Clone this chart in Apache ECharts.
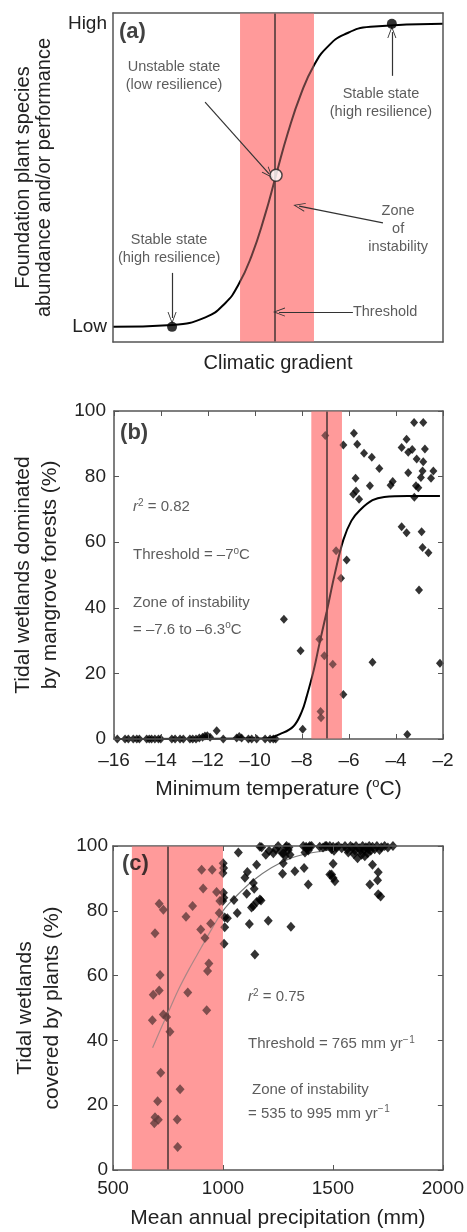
<!DOCTYPE html>
<html><head><meta charset="utf-8">
<script src="https://cdn.jsdelivr.net/npm/echarts@6/dist/echarts.min.js"></script>
<style>html,body{margin:0;padding:0;background:#fff}#c{width:467px;height:1232px}</style>
</head><body><div id="c"></div>
<script>
// ---------------- DATA ----------------
// Panel (a): conceptual curve (x: climatic gradient 0..1, y: performance 0..1)
const aCurve = [[0,0.046],[0.18,0.052],[0.28,0.075],[0.34,0.118],[0.38,0.174],[0.42,0.262],[0.46,0.384],[0.494,0.507],[0.53,0.636],[0.57,0.755],[0.61,0.843],[0.65,0.897],[0.70,0.934],[0.78,0.958],[1.0,0.967]];
const aStable = [[0.179,0.046],[0.845,0.967]];
const aUnstable = [[0.494,0.507]];
const aBand = [0.385, 0.609];
const aThreshold = 0.494;
const aLevels = [0.046, 0.967];
const aLevelLabels = ['Low', 'High'];

// Panel (b): minimum temperature (°C) vs % mangrove
const bPoints = [
  [-15.86,0],[-15.53,0],[-15.39,0],[-15.18,0],[-15.03,0],[-14.92,0],[-14.61,0],[-14.50,0],[-14.40,0],[-14.26,0],[-14.11,0],[-14.01,0],
  [-13.54,0],[-13.40,0],[-13.19,0],[-13.05,0],[-12.77,0],[-12.65,0],[-12.51,0],[-12.37,0.3],[-12.23,0.5],[-12.13,0.9],[-12.03,1.0],[-11.91,0.5],
  [-11.35,0],[-10.78,0.3],[-10.67,0.8],[-10.57,0.3],[-10.28,0],[-10.14,0],[-9.93,0],[-9.57,0],[-9.36,0],[-9.22,0],[-9.12,0],
  [-11.63,2.5],[-7.97,3.0],[-3.52,1.4],[-7.21,8.4],[-7.19,6.5],[-6.24,13.6],
  [-8.06,26.9],[-7.05,25.4],[-6.69,22.8],[-5.0,23.4],[-2.13,23.1],[-7.26,30.4],[-8.77,36.5],
  [-6.34,49.0],[-6.55,57.4],[-6.10,54.6],[-3.02,45.4],
  [-7.01,92.5],[-6.24,89.6],[-5.79,93.2],[-5.65,89.9],[-5.36,87.1],[-5.03,85.9],[-4.71,82.5],[-5.11,77.2],[-5.72,79.5],
  [-5.82,74.6],[-5.70,75.6],[-5.57,73.1],[-4.23,77.4],[-4.14,78.5],[-3.76,88.9],[-3.55,91.4],[-3.48,87.4],[-3.31,88.3],
  [-3.23,96.5],[-2.84,96.5],[-3.12,85.4],[-2.84,84.5],[-2.77,88.4],[-3.48,81.2],[-2.87,81.7],[-2.94,79.7],[-2.41,81.7],
  [-2.51,79.5],[-3.15,77.2],[-3.05,76.6],[-3.22,73.7],[-3.76,64.7],[-3.55,62.9],[-2.91,63.2],[-2.87,58.4],[-2.62,56.8]
];
const bCurve = [[-16,0],[-9.5,0.2],[-8.94,1.5],[-8.37,3.8],[-8.0,8.5],[-7.8,13],[-7.5,21],[-7.26,29],[-6.95,38.8],[-6.6,50.5],[-6.24,60.7],[-5.9,66.5],[-5.53,69.8],[-5.0,72.8],[-4.5,73.8],[-3.5,74.1],[-2.13,74.1]];
const bBand = [-7.6, -6.3];
const bThreshold = -6.95;

// Panel (c): mean annual precipitation (mm) vs % plant cover
const cPoints = [
  [903,92.7],[951,92.7],[910,86.9],[971,85.8],[986,83.0],[710,82.2],[729,80.3],[862,81.5],[832,78.2],[983,79.3],[944,76.1],
  [899,74.2],[918,71.6],[691,73.1],[714,60.2],[683,54.1],[710,55.4],[936,63.7],[930,61.4],[840,54.8],[926,49.3],[729,48.0],
  [744,47.2],[679,46.2],[759,42.7],[717,30.0],[805,24.9],[703,21.2],[691,16.3],[706,15.5],[688,14.4],[792,15.6],[794,7.1],
  [1001,94.7],[1003,93.2],[1000,91.7],[1002,85.6],[1004,84.0],[999,83.0],[1008,77.9],[1008,74.9],[1005,69.8],
  [1070,98.0],[1176,99.6],[1195,97.3],[1229,97.8],[1251,100],[1274,97.8],[1289,100],[1297,98.8],[1305,97.3],[1282,96.8],
  [1365,100],[1380,99.3],[1388,98.6],[1395,100],[1403,100],[1373,98],[1471,100],[1486,100],[1501,99.8],
  [1274,94.7],[1271,91.4],[1327,92.2],[1369,93.2],[1388,88.1],[1486,91.2],[1501,90.1],[1153,94.2],[1111,92.0],[1100,90.2],
  [1138,88.6],[1142,86.8],[1108,85.3],[1168,83.5],[1153,82.7],[1138,81.5],[1130,81.0],[1050,83.3],[1065,79.3],[1020,77.7],
  [1120,75.9],[1206,76.9],[1309,75.1],[1145,66.5],[1173,83.2],
  [1168,99.8],[1210,98.5],[1240,99],[1262,98.3],[1285,99.5],[1300,99.6],[1378,99.8],[1390,99.5],[1440,99.8],[1455,99.5],[1465,100],
  [1494,99],[1505,98.5],[1515,99.6],[1525,100],[1540,99.3],[1555,100],[1565,99],[1570,98],[1580,100],[1590,99.5],[1600,98.6],
  [1605,100],[1612,96.2],[1620,99.3],[1630,97.3],[1635,100],[1642,98.8],[1650,99.6],[1658,97.8],[1665,100],[1672,98.5],
  [1680,99.8],[1690,99],[1700,100],[1712,98.8],[1720,99.6],[1735,100],[1750,99.5],[1773,100],[1595,97.5],[1625,98.5],
  [1645,96.8],[1660,99],
  [1501,94.5],[1494,91.2],[1509,89.1],[1680,94.2],[1706,91.9],[1703,89.4],[1668,88.1],[1706,85.1],[1717,84.4]
];
const cCurve = [[680,37.7],[720,44],[760,50],[800,56],[850,62.5],[900,68.5],[950,74.5],[1000,80],[1060,84.5],[1140,89.5],[1220,93.3],[1300,96],[1380,97.6],[1460,98.5],[1510,99]];
const cBand = [586, 1000];
const cThreshold = 750;

// ---------------- LAYOUT / ANNOTATIONS ----------------
const FONT = "'Liberation Sans', Arial, sans-serif";
const grids = [
  {left:113, top:13, width:330, height:329},
  {left:114, top:411, width:329, height:328},
  {left:113, top:846, width:330, height:328}
];
const aNotes = [
  {p:[0.018,0.942], t:'{b|(a)}', align:'left'},
  {p:[0.185,0.808], t:'Unstable state\n(low resilience)', align:'center'},
  {p:[0.812,0.726], t:'Stable state\n(high resilience)', align:'center'},
  {p:[0.864,0.343], t:'Zone\nof\ninstability', align:'center'},
  {p:[0.170,0.284], t:'Stable state\n(high resilience)', align:'center'},
  {p:[0.727,0.091], t:'Threshold', align:'left'}
];
const aArrows = [
  [[0.279,0.729],[0.473,0.511]],
  [[0.845,0.809],[0.845,0.942]],
  [[0.818,0.362],[0.564,0.413]],
  [[0.179,0.210],[0.179,0.073]],
  [[0.727,0.091],[0.503,0.091]]
];
const bNotes = [
  {p:[-15.74,93.3], t:'{b|(b)}', align:'left'},
  {p:[-15.19,70.8], t:'{i|r}{s|2} = 0.82', align:'left'},
  {p:[-15.19,56.1], t:'Threshold = \u20137{s|o}C', align:'left'},
  {p:[-15.19,41.4], t:'Zone of instability', align:'left'},
  {p:[-15.19,33.4], t:'= \u20137.6 to \u20136.3{s|o}C', align:'left'}
];
const cNotes = [
  {p:[541,94.5], t:'{b|(c)}', align:'left'},
  {p:[1114,53.4], t:'{i|r}{s|2} = 0.75', align:'left'},
  {p:[1114,38.8], t:'Threshold = 765 mm yr{s|\u2212\u200a1}', align:'left'},
  {p:[1132,24.7], t:'Zone of instability', align:'left'},
  {p:[1114,17.4], t:'= 535 to 995 mm yr{s|\u2212\u200a1}', align:'left'}
];

const rich = {
  b: {fontSize:22, fontWeight:'bold', color:'#111', fontFamily:FONT, lineHeight:24},
  i: {fontStyle:'italic', fontSize:15, color:'#333', fontFamily:FONT, lineHeight:18},
  s: {fontSize:10, color:'#333', fontFamily:FONT, verticalAlign:'top', lineHeight:18, padding:[0,0,6,0]}
};

function noteSeries(xi, yi, notes, fs) {
  return {
    type:'scatter', xAxisIndex:xi, yAxisIndex:yi, symbolSize:1, silent:true, z:12,
    itemStyle:{color:'rgba(0,0,0,0)'},
    data: notes.map(n => ({value:n.p, label:{align:n.align}, nm:n.t})),
    label:{show:true, position:'inside', verticalAlign:'middle', color:'#333', fontSize:fs, lineHeight:18, fontFamily:FONT,
      formatter: p => p.data.nm, rich: rich}
  };
}

const chevron = 'path://M5,0 L10,12 L9,12 L5,2.4 L1,12 L0,12 Z';

function axisPair(gi, kind, opts) {
  const base = {gridIndex:gi, type:'value', z:6, splitLine:{show:false},
    axisLine:{show:true, onZero:false, lineStyle:{color:'#555', width:1.5}}};
  const main = Object.assign({}, base, opts.main);
  const mirror = Object.assign({}, base, {position: kind==='x'?'top':'right', axisLabel:{show:false}, name:''}, opts.mirror);
  return [main, mirror];
}

const tickStyle = {show:true, inside:true, length:5, lineStyle:{color:'#555', width:1}};
const labelStyle = {color:'#222', fontSize:19, fontFamily:FONT};
const nameStyle = {color:'#222', fontSize:21, fontFamily:FONT, lineHeight:27};

const xA = axisPair(0,'x',{main:{min:0,max:1, axisTick:{show:false}, axisLabel:{show:false}, position:'bottom',
  name:'Climatic gradient', nameLocation:'middle', nameGap:8, nameTextStyle:Object.assign({}, nameStyle, {fontSize:20, verticalAlign:'top'})},
  mirror:{min:0,max:1, axisTick:{show:false}}});
const yA = axisPair(0,'y',{main:{min:0,max:1, position:'left',
  axisTick:{show:false},
  axisLabel:{show:true, customValues:aLevels, margin:6, color:'#222', fontSize:19, fontFamily:FONT,
    formatter: v => { const k = aLevels.findIndex(l => Math.abs(l - v) < 1e-6); return k >= 0 ? aLevelLabels[k] : ''; }},
  name:'Foundation plant species\nabundance and/or performance', nameLocation:'middle', nameGap:58,
  nameTextStyle:Object.assign({}, nameStyle, {fontSize:20, lineHeight:21})},
  mirror:{min:0,max:1, axisTick:{show:false}}});

const xB = axisPair(1,'x',{main:{min:-16,max:-2,interval:2, position:'bottom', axisTick:tickStyle,
  axisLabel:Object.assign({}, labelStyle, {margin:12, formatter: v => String(v).replace('-', '\u2013')}),
  name:'Minimum temperature ({s|o}C)', nameLocation:'middle', nameGap:38,
  nameTextStyle:Object.assign({}, nameStyle, {lineHeight:25, rich:{s:{fontSize:13, color:'#222', fontFamily:FONT, verticalAlign:'top', lineHeight:25, padding:[0,0,8,0]}}})},
  mirror:{min:-16,max:-2,interval:2, axisTick:tickStyle}});
const yB = axisPair(1,'y',{main:{min:0,max:100,interval:20, position:'left', axisTick:tickStyle,
  axisLabel:Object.assign({}, labelStyle, {margin:8}),
  name:'Tidal wetlands dominated\nby mangrove forests (%)', nameLocation:'middle', nameGap:44, nameTextStyle:nameStyle},
  mirror:{min:0,max:100,interval:20, axisTick:tickStyle}});

const xC = axisPair(2,'x',{main:{min:500,max:2000,interval:500, position:'bottom', axisTick:tickStyle,
  axisLabel:Object.assign({}, labelStyle, {margin:9, formatter: v => String(v)}),
  name:'Mean annual precipitation (mm)', nameLocation:'middle', nameGap:36, nameTextStyle:Object.assign({}, nameStyle, {lineHeight:25})},
  mirror:{min:500,max:2000,interval:500, axisTick:tickStyle}});
const yC = axisPair(2,'y',{main:{min:0,max:100,interval:20, position:'left', axisTick:tickStyle,
  axisLabel:Object.assign({}, labelStyle, {margin:5}),
  name:'Tidal wetlands\ncovered by plants (%)', nameLocation:'middle', nameGap:44, nameTextStyle:nameStyle},
  mirror:{min:0,max:100,interval:20, axisTick:tickStyle}});

const BAND = '#ff9a9a';
const OVER = 'rgba(255,154,154,0.38)';

function bandSeries(xi, yi, band, color, z) {
  return {type:'line', xAxisIndex:xi, yAxisIndex:yi, data:[], z:z, silent:true,
    markArea:{silent:true, z:z, itemStyle:{color:color}, data:[[{xAxis:band[0]},{xAxis:band[1]}]]}};
}
function thrSeries(xi, yi, thr) {
  return {type:'line', xAxisIndex:xi, yAxisIndex:yi, data:[], z:2, silent:true,
    markLine:{silent:true, z:2, symbol:['none','none'], label:{show:false}, animation:false,
      lineStyle:{color:'#1e1e1e', width:2, type:'solid'}, data:[{xAxis:thr}]}};
}

const option = {
  animation:false,
  backgroundColor:'#fff',
  textStyle:{fontFamily:FONT},
  grid: grids.map(g => Object.assign({show:false}, g)),
  xAxis: [xA[0], xA[1], xB[0], xB[1], xC[0], xC[1]],
  yAxis: [yA[0], yA[1], yB[0], yB[1], yC[0], yC[1]],
  series: [
    // panel a
    bandSeries(0,0,aBand,BAND,1),
    thrSeries(0,0,aThreshold),
    {type:'line', xAxisIndex:0, yAxisIndex:0, data:aCurve, smooth:0.5, showSymbol:false, z:3, silent:true,
      lineStyle:{color:'#000', width:2}},
    {type:'line', xAxisIndex:0, yAxisIndex:0, data:[], z:3, silent:true,
      markLine:{silent:true, z:9, symbol:['none', chevron], symbolSize:[9,12], label:{show:false},
        lineStyle:{color:'#333', width:1.2, type:'solid'},
        data: aArrows.map(a => [{coord:a[0]},{coord:a[1]}])}},
    bandSeries(0,0,aBand,OVER,8),
    {type:'scatter', xAxisIndex:0, yAxisIndex:0, data:aStable, symbol:'circle', symbolSize:10, z:10, silent:true,
      itemStyle:{color:'#000'}},
    {type:'scatter', xAxisIndex:0, yAxisIndex:0, data:aUnstable, symbol:'circle', symbolSize:12, z:10, silent:true,
      itemStyle:{color:'#fff', borderColor:'#222', borderWidth:1.5}},
    noteSeries(0,0,aNotes,14.5),
    // panel b
    bandSeries(2,2,bBand,BAND,1),
    thrSeries(2,2,bThreshold),
    {type:'line', xAxisIndex:2, yAxisIndex:2, data:bCurve, smooth:0.4, showSymbol:false, z:3, silent:true,
      lineStyle:{color:'#000', width:2}},
    {type:'scatter', xAxisIndex:2, yAxisIndex:2, data:bPoints, symbol:'diamond', symbolSize:[8,9], z:3, silent:true,
      itemStyle:{color:'#000'}},
    bandSeries(2,2,bBand,OVER,8),
    noteSeries(2,2,bNotes,15),
    // panel c
    bandSeries(4,4,cBand,BAND,1),
    thrSeries(4,4,cThreshold),
    {type:'line', xAxisIndex:4, yAxisIndex:4, data:cCurve, smooth:0.4, showSymbol:false, z:3, silent:true,
      lineStyle:{color:'#7a7a7a', width:1.2}},
    {type:'scatter', xAxisIndex:4, yAxisIndex:4, data:cPoints, symbol:'diamond', symbolSize:[9,10], z:3, silent:true,
      itemStyle:{color:'#000'}},
    bandSeries(4,4,cBand,OVER,8),
    noteSeries(4,4,cNotes,15)
  ]
};

const chart = echarts.init(document.getElementById('c'), null, {renderer:'canvas'});
chart.setOption(option);
</script></body></html>
